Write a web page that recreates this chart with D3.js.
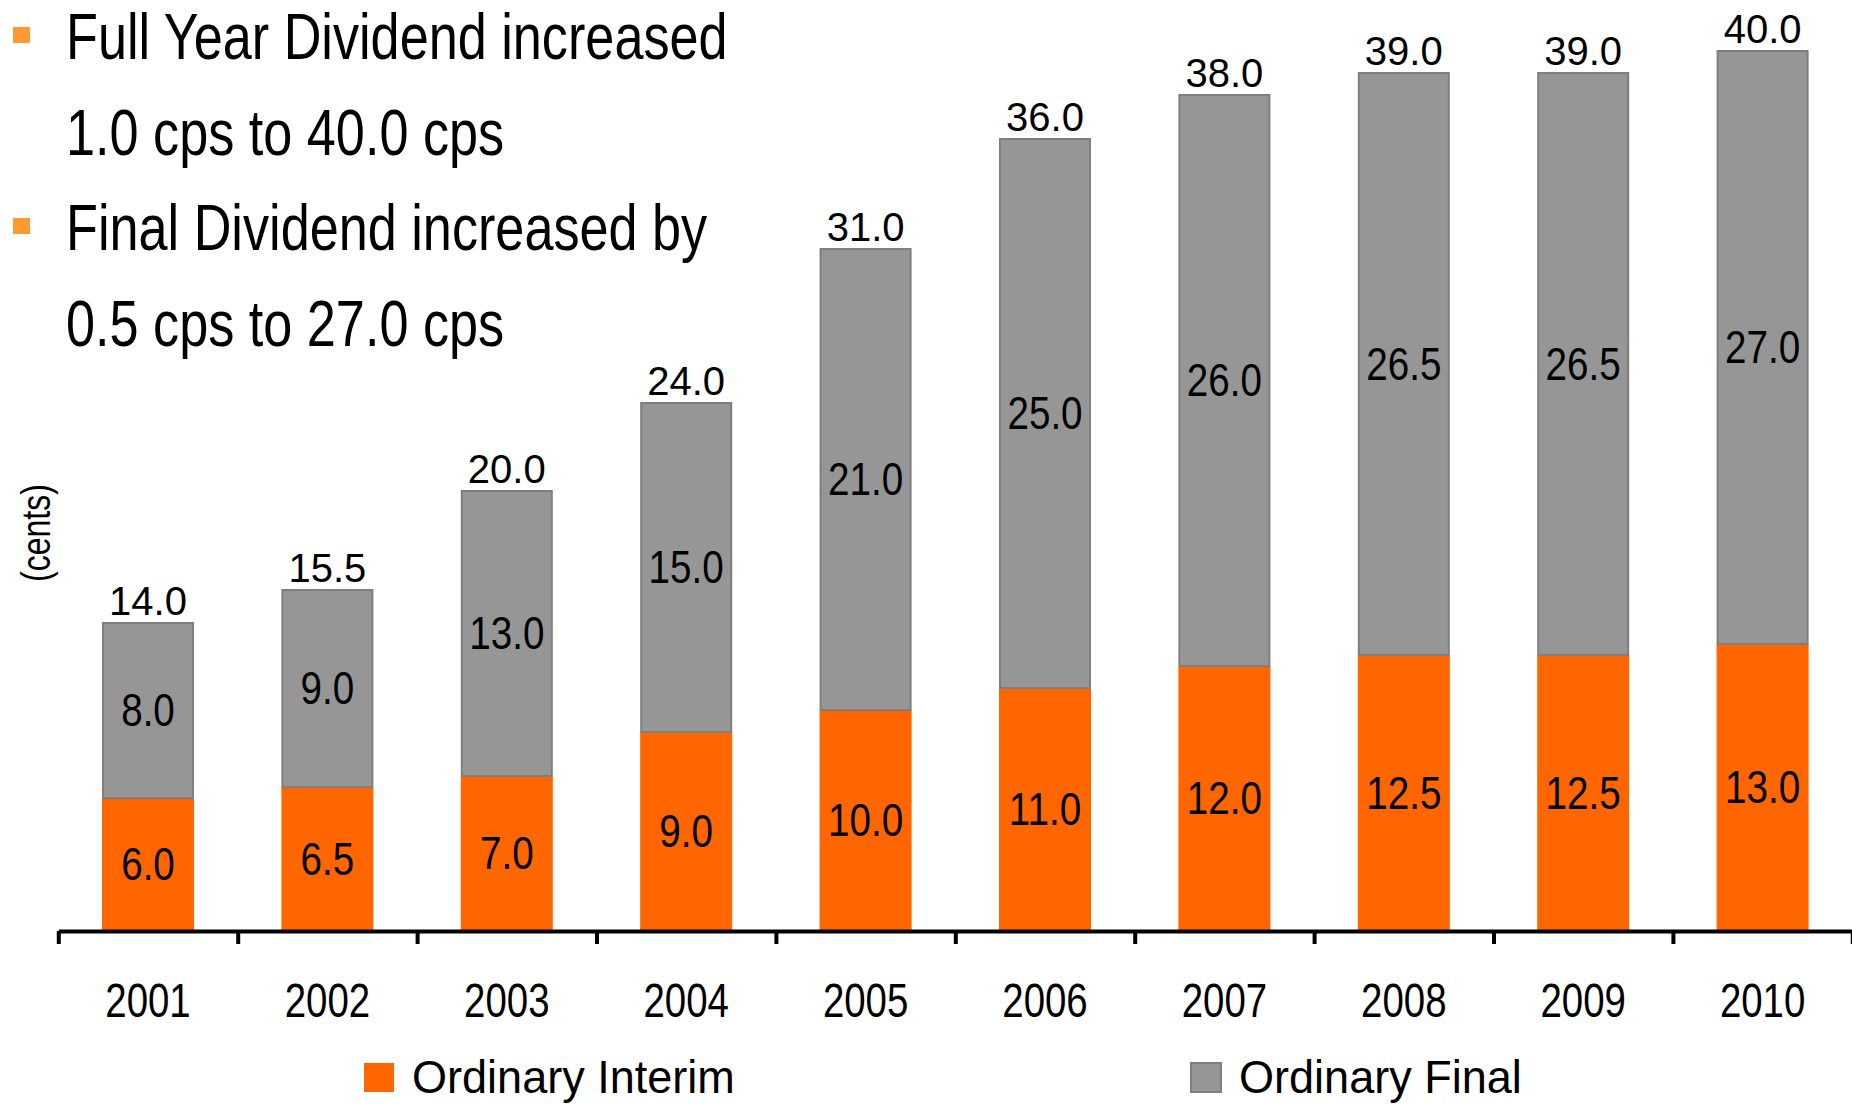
<!DOCTYPE html>
<html>
<head>
<meta charset="utf-8">
<script src="https://cdn.jsdelivr.net/npm/d3@7"></script>
<style>
  html, body { margin: 0; padding: 0; background: #ffffff; }
  svg { display: block; font-family: "Liberation Sans", Arial, sans-serif; }
</style>
</head>
<body>
<svg id="chart" width="1852" height="1104"></svg>
<script>
// ---- Data ----
const years = ["2001","2002","2003","2004","2005","2006","2007","2008","2009","2010"];
const interim = [6.0, 6.5, 7.0, 9.0, 10.0, 11.0, 12.0, 12.5, 12.5, 13.0];
const final = [8.0, 9.0, 13.0, 15.0, 21.0, 25.0, 26.0, 26.5, 26.5, 27.0];
const seriesNames = ["Ordinary Interim", "Ordinary Final"];
const bulletLines = [
  ["Full Year Dividend increased", "1.0 cps to 40.0 cps"],
  ["Final Dividend increased by", "0.5 cps to 27.0 cps"]
];
const yAxisLabel = "(cents)";

// ---- Styles ----
const ORANGE = "#ff6600";
const GREY = "#969696";
const GREY_STROKE = "#7f7f7f";
const BULLET = "#ff9933";

const svg = d3.select("#chart");
const rows = years.map((yr, i) => ({ year: yr, interim: interim[i], final: final[i] }));
const stacked = d3.stack().keys(["interim", "final"])(rows);

const x = d3.scaleBand().domain(years).range([58.3, 1852.3]).paddingInner(0.487).paddingOuter(0.2435);
const y = d3.scaleLinear().domain([0, 930 / 22]).range([930, 0]);

// ---- Bars ----
const colors = { interim: ORANGE, final: GREY };
stacked.forEach(layer => {
  const isFinal = layer.key === "final";
  const g = svg.append("g").attr("class", "layer-" + layer.key);
  g.selectAll("rect").data(layer).join("rect")
    .attr("x", d => x(d.data.year) + (isFinal ? 1 : 0))
    .attr("y", d => y(d[1]) + (isFinal ? 1 : 0))
    .attr("width", x.bandwidth() - (isFinal ? 2 : 0))
    .attr("height", d => y(d[0]) - y(d[1]) - (isFinal ? 1 : 0))
    .attr("fill", colors[layer.key])
    .attr("stroke", isFinal ? GREY_STROKE : "none")
    .attr("stroke-width", isFinal ? 2 : 0);

  g.selectAll("text").data(layer).join("text")
    .attr("transform", d => `translate(${x(d.data.year) + x.bandwidth() / 2},${(y(d[0]) + y(d[1])) / 2 + 16}) scale(0.84,1)`)
    .attr("text-anchor", "middle")
    .attr("font-size", 46)
    .attr("fill", "#000")
    .text(d => d3.format(".1f")(d[1] - d[0]));
});

// ---- Total labels ----
const topLayer = stacked[stacked.length - 1];
svg.append("g").selectAll("text").data(topLayer).join("text")
  .attr("x", d => x(d.data.year) + x.bandwidth() / 2)
  .attr("y", d => y(d[1]) - 7)
  .attr("text-anchor", "middle")
  .attr("font-size", 40)
  .attr("fill", "#000")
  .text(d => d3.format(".1f")(d[1]));

// ---- X axis ----
const axisG = svg.append("g").attr("transform", "translate(0,931)");
const edges = d3.range(years.length + 1).map(i => x.range()[0] + i * x.step());
const edgeScale = d3.scaleLinear().domain([0, years.length]).range([edges[0], edges[edges.length - 1]]);
const edgeAxis = d3.axisBottom(edgeScale).tickValues(d3.range(years.length + 1)).tickSize(13).tickSizeOuter(0).tickFormat("");
axisG.call(edgeAxis);
axisG.select(".domain").attr("stroke", "#000").attr("stroke-width", 4);
axisG.selectAll(".tick line").attr("stroke", "#000").attr("stroke-width", 4);

const xAxis = d3.axisBottom(x).tickSize(0).tickPadding(0);
const labG = svg.append("g").attr("transform", "translate(0,1017)").call(xAxis);
labG.select(".domain").remove();
labG.selectAll(".tick text")
  .attr("y", 0).attr("dy", 0)
  .attr("font-size", 48)
  .attr("font-family", "Liberation Sans, Arial, sans-serif")
  .attr("fill", "#000")
  .attr("transform", "scale(0.8,1)");

// ---- Y axis label ----
svg.append("text")
  .attr("transform", "translate(50,533) rotate(-90) scale(0.8,1)")
  .attr("text-anchor", "middle")
  .attr("font-size", 40)
  .attr("fill", "#000")
  .text(yAxisLabel);

// ---- Bullet text ----
const bulletG = svg.append("g");
bulletLines.forEach((lines, bi) => {
  const base = 59 + bi * 191;
  bulletG.append("rect")
    .attr("x", 13).attr("y", base - 32).attr("width", 17).attr("height", 16)
    .attr("fill", BULLET);
  lines.forEach((t, li) => {
    bulletG.append("text")
      .attr("transform", `translate(66,${base + li * 95.5}) scale(0.796,1)`)
      .attr("font-size", 65.6)
      .attr("fill", "#000")
      .text(t);
  });
});

// ---- Legend ----
const legend = [
  { name: seriesNames[0], color: ORANGE, stroke: "none", x: 363 },
  { name: seriesNames[1], color: GREY, stroke: GREY_STROKE, x: 1190 }
];
const lg = svg.append("g");
legend.forEach(l => {
  lg.append("rect")
    .attr("x", l.x + 1).attr("y", 1063).attr("width", 30).attr("height", 29)
    .attr("fill", l.color)
    .attr("stroke", l.stroke).attr("stroke-width", l.stroke === "none" ? 0 : 2);
  lg.append("text")
    .attr("transform", `translate(${l.x + 49},1093) scale(0.99,1)`)
    .attr("font-size", 45.5)
    .attr("fill", "#000")
    .text(l.name);
});
</script>
</body>
</html>
